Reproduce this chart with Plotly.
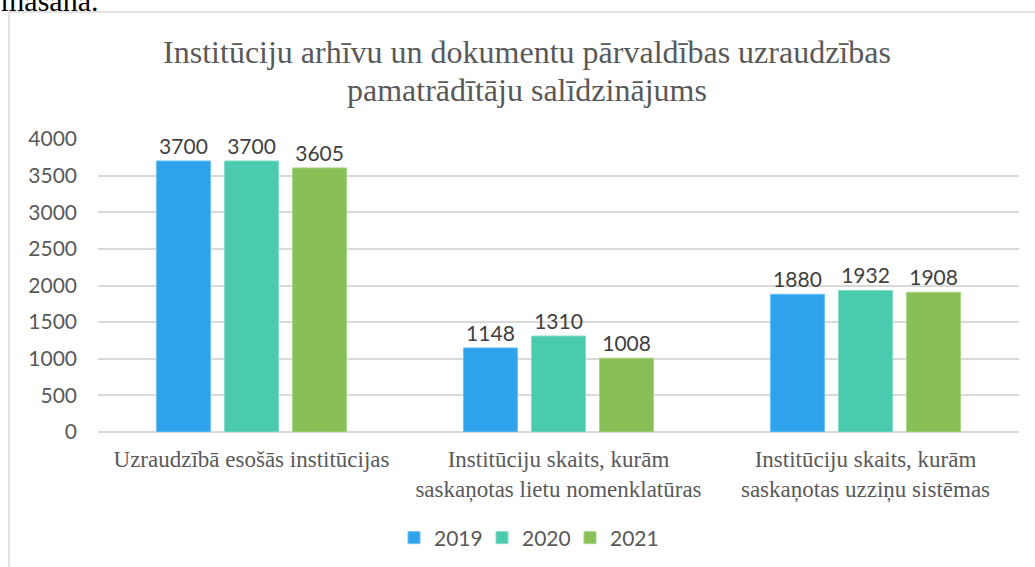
"""Institūciju arhīvu un dokumentu pārvaldības uzraudzības pamatrādītāji (2019–2021)."""

import plotly.graph_objects as go

categories = [
    "Uzraudzībā esošās institūcijas",
    "Institūciju skaits, kurām<br>saskaņotas lietu nomenklatūras",
    "Institūciju skaits, kurām<br>saskaņotas uzziņu sistēmas",
]
years = ["2019", "2020", "2021"]
values_2019 = [3700, 1148, 1880]
values_2020 = [3700, 1310, 1932]
values_2021 = [3605, 1008, 1908]
y_ticks = [0, 500, 1000, 1500, 2000, 2500, 3000, 3500, 4000]

colors = ["#2EA3EC", "#4BCBAD", "#88C057"]
edges = ["#6FC0F2", "#85DCC6", "#A9D486"]
series = [values_2019, values_2020, values_2021]

W, H = 1035, 567
L, R, T, B = 98, 16, 139, 135
pw, ph = W - L - R, H - T - B


def px(x):
    return (x - L) / pw


def py(y):
    return (H - B - y) / ph


fig = go.Figure()
for name, vals, col, edge in zip(years, series, colors, edges):
    fig.add_trace(
        go.Bar(
            x=categories, y=vals, name=name,
            marker=dict(color=col, line=dict(color=edge, width=1)),
            text=[str(v) for v in vals], textposition="outside",
            textfont=dict(family="Lato", size=21, color="#404040"),
            cliponaxis=False,
        )
    )

# rāmis ap diagrammu
fig.add_shape(
    type="rect", xref="paper", yref="paper",
    x0=px(9), x1=px(1045), y0=py(12), y1=py(600),
    line=dict(color="#D9D9D9", width=1.5), layer="below",
)

# dokumenta teksts virs diagrammas (augšā nogriezts)
fig.add_annotation(
    text="masana.", xref="paper", yref="paper",
    x=px(100), y=py(0), xanchor="right", yanchor="middle",
    showarrow=False, font=dict(family="Liberation Serif", size=30, color="#000000"),
)

# virsraksta otrā rinda (ciešāka rindstarpa nekā <br>)
title_font = dict(family="Liberation Serif", size=32, color="#595959")
fig.add_annotation(
    text="pamatrādītāju salīdzinājums", xref="paper", yref="paper",
    x=px(527), y=py(90), xanchor="center", yanchor="middle",
    showarrow=False, font=title_font,
)

fig.update_layout(
    width=W, height=H,
    title=dict(
        text="Institūciju arhīvu un dokumentu pārvaldības uzraudzības",
        x=527 / W, xanchor="center", y=1 - 52 / H, yanchor="middle",
        font=title_font,
    ),
    barmode="group",
    bargap=0.335,
    bargroupgap=0.206,
    plot_bgcolor="white",
    paper_bgcolor="white",
    margin=dict(l=L, r=R, t=T, b=B),
    showlegend=True,
    legend=dict(
        orientation="h", xref="container", yref="container",
        x=526 / W, xanchor="center", y=1 - 538 / H, yanchor="middle",
        font=dict(family="Lato", size=21, color="#595959"),
        itemwidth=30, entrywidth=43,
    ),
    xaxis=dict(
        tickfont=dict(family="Liberation Serif", size=23, color="#595959"),
        showline=False, ticks="", ticklabelstandoff=11, automargin=False,
    ),
    yaxis=dict(
        range=[0, 4000], tickvals=y_ticks,
        tickfont=dict(family="Lato", size=21, color="#595959"),
        gridcolor="#D9D9D9", gridwidth=1.5,
        zeroline=True, zerolinecolor="#D9D9D9", zerolinewidth=1.5,
        ticks="", ticklabelstandoff=20, automargin=False,
    ),
)

fig.write_html(
    "out.html",
    config={"displayModeBar": False},
    post_script="document.body.style.margin='0';",
)
